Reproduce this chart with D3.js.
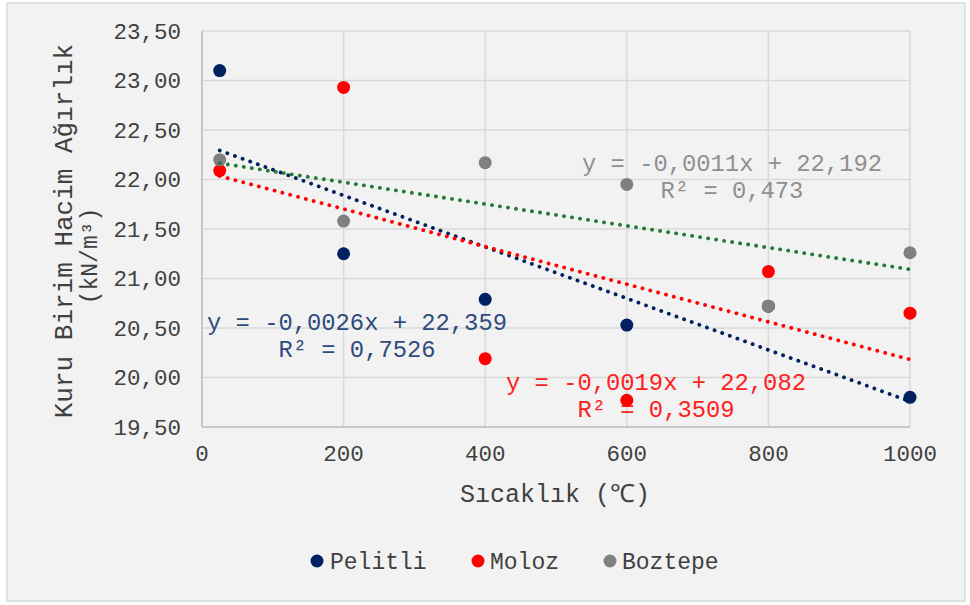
<!DOCTYPE html>
<html><head><meta charset="utf-8">
<script src="https://cdn.jsdelivr.net/npm/d3@7/dist/d3.min.js"></script>
<style>body{margin:0;background:#fff}svg{display:block}text{font-family:"Liberation Mono","Courier New",monospace}</style>
</head><body><svg id="c" width="970" height="605"></svg>
<script>
const temps = [25, 200, 400, 600, 800, 1000];
const seriesNames = ["Pelitli", "Moloz", "Boztepe"];
const pelitli = [23.10, 21.25, 20.79, 20.53, 20.72, 19.80];
const moloz = [22.09, 22.93, 20.19, 19.77, 21.07, 20.65];
const boztepe = [22.20, 21.58, 22.17, 21.95, 20.72, 21.26];
const slopes = [-0.0026, -0.0019, -0.0011];
const intercepts = [22.359, 22.082, 22.192];
const eqLabels = ["y = -0,0026x + 22,359", "y = -0,0019x + 22,082", "y = -0,0011x + 22,192"];
const r2Labels = ["R² = 0,7526", "R² = 0,3509", "R² = 0,473"];
const yTicks = [19.5, 20, 20.5, 21, 21.5, 22, 22.5, 23, 23.5];
const xTicks = [0, 200, 400, 600, 800, 1000];

const markerColors = ["#002060", "#ff0000", "#808080"];
const trendColors = ["#002060", "#ff0000", "#237a32"];
const labelColors = ["#2f4b7c", "#ff2020", "#8f8f8f"];
const labelPos = [[357, 322], [656, 382], [732, 163]];

const values = [pelitli, moloz, boztepe];
const svg = d3.select("#c");
svg.append("rect").attr("x", 7).attr("y", 3).attr("width", 958).attr("height", 598)
  .attr("fill", "#f2f2f2").attr("stroke", "#d9d9d9").attr("stroke-width", 1.5);

const x = d3.scaleLinear().domain([0, 1000]).range([202, 910]);
const y = d3.scaleLinear().domain([19.5, 23.5]).range([427, 31]);
const fmt = d => d3.format(".2f")(d).replace(".", ",");

const g = svg.append("g");
g.selectAll(".hg").data(yTicks).join("line")
  .attr("x1", x(0)).attr("x2", x(1000)).attr("y1", d => y(d)).attr("y2", d => y(d))
  .attr("stroke", "#d9d9d9").attr("stroke-width", 1.5);
g.selectAll(".vg").data(xTicks).join("line")
  .attr("y1", y(19.5)).attr("y2", y(23.5)).attr("x1", d => x(d)).attr("x2", d => x(d))
  .attr("stroke", "#d9d9d9").attr("stroke-width", 1.5);
g.append("line").attr("x1", x(0)).attr("x2", x(0)).attr("y1", y(19.5)).attr("y2", y(23.5)).attr("stroke", "#bfbfbf").attr("stroke-width", 1.5);
g.append("line").attr("x1", x(0)).attr("x2", x(1000)).attr("y1", y(19.5)).attr("y2", y(19.5)).attr("stroke", "#bfbfbf").attr("stroke-width", 1.5);

g.selectAll(".yt").data(yTicks).join("text")
  .attr("x", 181).attr("y", d => y(d)).attr("dy", "0.35em").attr("text-anchor", "end")
  .attr("font-size", 22.5).attr("fill", "#404040").text(fmt);
g.selectAll(".xt").data(xTicks).join("text")
  .attr("x", d => x(d)).attr("y", 453).attr("dy", "0.35em").attr("text-anchor", "middle")
  .attr("font-size", 22.5).attr("fill", "#404040").text(d => d);

svg.append("text").attr("x", 555).attr("y", 493).attr("dy", "0.35em").attr("text-anchor", "middle")
  .attr("font-size", 25).attr("fill", "#404040").text("Sıcaklık (℃)");
svg.append("text").attr("transform", "translate(63,231) rotate(-90)").attr("dy", "0.35em")
  .attr("text-anchor", "middle").attr("font-size", 26).attr("fill", "#404040").text("Kuru Birim Hacim Ağırlık");
svg.append("text").attr("transform", "translate(89,256) rotate(-90)").attr("dy", "0.35em")
  .attr("text-anchor", "middle").attr("font-size", 23).attr("fill", "#404040").text("(kN/m³)");

// trend labels
seriesNames.forEach((s, i) => {
  const [lx, ly] = labelPos[i];
  svg.append("text").attr("x", lx).attr("y", ly).attr("dy", "0.35em").attr("text-anchor", "middle")
    .attr("font-size", 23.8).attr("fill", labelColors[i]).text(eqLabels[i]);
  svg.append("text").attr("x", lx).attr("y", ly + 27).attr("dy", "0.35em").attr("text-anchor", "middle")
    .attr("font-size", 23.8).attr("fill", labelColors[i]).text(r2Labels[i]);
});

// markers
seriesNames.forEach((s, i) => {
  svg.append("g").selectAll("circle").data(temps.map((t, j) => [t, values[i][j]])).join("circle")
    .attr("cx", d => x(d[0])).attr("cy", d => y(d[1])).attr("r", 6.5).attr("fill", markerColors[i]);
});

// trendlines
seriesNames.forEach((s, i) => {
  const x0 = temps[0], x1 = temps[temps.length - 1];
  svg.append("line").attr("x1", x(x0)).attr("x2", x(x1))
    .attr("y1", y(slopes[i] * x0 + intercepts[i])).attr("y2", y(slopes[i] * x1 + intercepts[i]))
    .attr("stroke", trendColors[i]).attr("stroke-width", 3.8).attr("stroke-linecap", "round")
    .attr("stroke-dasharray", "0.1,8");
});

// legend
const leg = [[317, 330], [478, 490], [610, 622]];
seriesNames.forEach((s, i) => {
  svg.append("circle").attr("cx", leg[i][0]).attr("cy", 561).attr("r", 6.5).attr("fill", markerColors[i]);
  svg.append("text").attr("x", leg[i][1]).attr("y", 561).attr("dy", "0.35em").attr("font-size", 23)
    .attr("fill", "#404040").text(s);
});
</script></body></html>
